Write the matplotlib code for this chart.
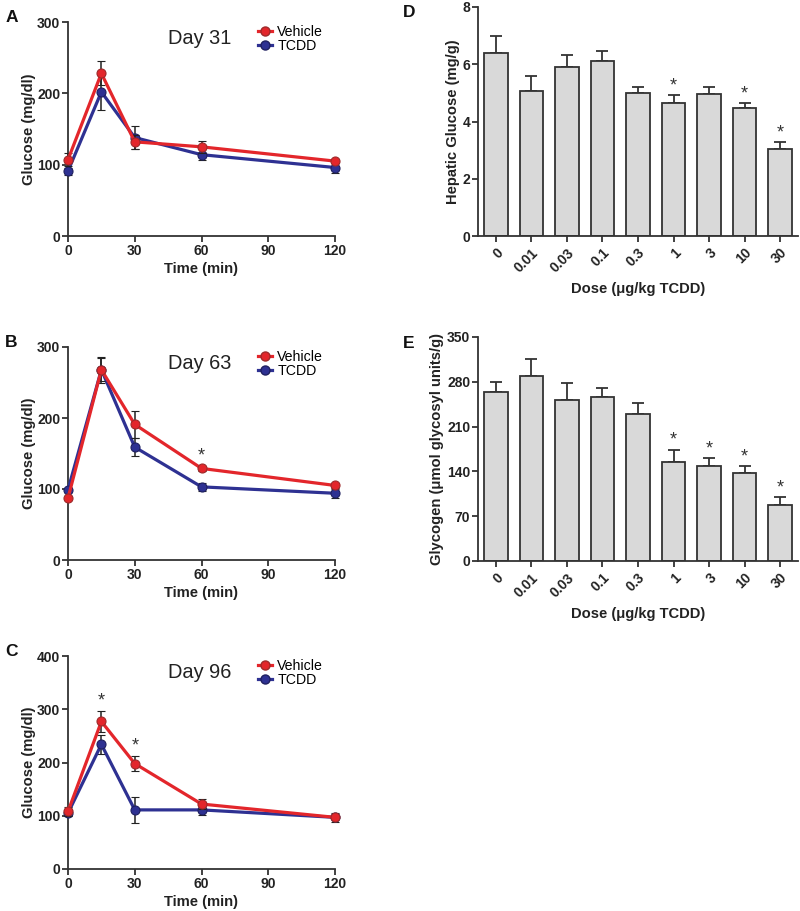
import matplotlib
matplotlib.use("Agg")
import matplotlib.pyplot as plt
from matplotlib.lines import Line2D

plt.rcParams['font.family'] = ['Liberation Sans', 'DejaVu Sans']

# ---------------- data ----------------
times = [0, 15, 30, 60, 120]

a_vehicle = [107, 228, 132, 125, 105]
a_vehicle_err = [9, 17, 10, 8, 3]
a_tcdd = [91, 202, 138, 114, 96]
a_tcdd_err = [5, 25, 16, 8, 7]

b_vehicle = [87, 268, 191, 129, 105]
b_vehicle_err = [3, 16, 19, 3, 3]
b_tcdd = [99, 268, 159, 103, 94]
b_tcdd_err = [3, 18, 13, 6, 6]

c_vehicle = [108, 277, 198, 122, 97]
c_vehicle_err = [8, 20, 14, 10, 4]
c_tcdd = [105, 234, 111, 111, 97]
c_tcdd_err = [6, 18, 25, 10, 8]

days = ["Day 31", "Day 63", "Day 96"]
b_star_idx = [3]
c_star_idx = [1, 2]

doses = ["0", "0.01", "0.03", "0.1", "0.3", "1", "3", "10", "30"]
hepatic = [6.39, 5.08, 5.89, 6.12, 5.00, 4.64, 4.96, 4.46, 3.05]
hepatic_err = [0.60, 0.50, 0.42, 0.36, 0.19, 0.28, 0.25, 0.18, 0.24]
hepatic_star = [False, False, False, False, False, True, False, True, True]

glycogen = [264, 289, 251, 256, 230, 154, 148, 137, 87]
glycogen_err = [15, 27, 27, 14, 17, 20, 13, 11, 13]
glycogen_star = [False, False, False, False, False, True, True, True, True]

# ---------------- style ----------------
W, H = 800, 911
RED = '#e3262b'
RED_EDGE = '#9e2a2a'
BLUE = '#2e3192'
BLUE_EDGE = '#1f2060'
AX = '#333333'
BARFILL = '#d9d9d9'
TICK_FS = 10
LAB_FS = 10.6

fig = plt.figure(figsize=(W / 100, H / 100), dpi=100)


def ax_px(left, top, right, bottom):
    return fig.add_axes([left / W, 1 - bottom / H, (right - left) / W, (bottom - top) / H])


def style_axes(ax):
    for s in ['top', 'right']:
        ax.spines[s].set_visible(False)
    for s in ['left', 'bottom']:
        ax.spines[s].set_color(AX)
        ax.spines[s].set_linewidth(1.3)
    ax.tick_params(direction='out', length=4, width=1.3, color=AX, labelsize=TICK_FS,
                   pad=1.5)
    for lab in ax.get_xticklabels() + ax.get_yticklabels():
        lab.set_fontweight('bold')
        lab.set_color('#222222')


def line_panel(ax, veh, veh_err, tcdd, tcdd_err, ymax, yticks, day, letter, stars):
    ax.errorbar(times, tcdd, yerr=tcdd_err, color=BLUE, lw=2.3, marker='o', ms=6.5,
                mfc=BLUE, mec=BLUE_EDGE, mew=0.8, ecolor='#222222', elinewidth=1.1,
                capsize=2.6, capthick=1.1, zorder=3, clip_on=False)
    ax.errorbar(times, veh, yerr=veh_err, color=RED, lw=2.3, marker='o', ms=6.5,
                mfc=RED, mec=RED_EDGE, mew=0.8, ecolor='#222222', elinewidth=1.1,
                capsize=2.6, capthick=1.1, zorder=4, clip_on=False)
    for i in stars:
        ax.text(times[i], veh[i] + veh_err[i] + ymax * 0.008, '*', ha='center', va='bottom',
                fontsize=13, color='#333333')
    ax.set_xlim(0, 120)
    ax.set_ylim(0, ymax)
    ax.set_xticks([0, 30, 60, 90, 120])
    ax.set_yticks(yticks)
    ax.set_xlabel('Time (min)', fontsize=LAB_FS, fontweight='bold', labelpad=3, color='#222222')
    ax.set_ylabel('Glucose (mg/dl)', fontsize=LAB_FS, fontweight='bold', labelpad=1, color='#222222')
    style_axes(ax)
    ax.text(0.494, 0.921, day, transform=ax.transAxes, fontsize=14.4, ha='center', va='center',
            color='#222222')
    handles = [Line2D([], [], color=RED, lw=2.3, marker='o', ms=6.5, mfc=RED, mec=RED_EDGE),
               Line2D([], [], color=BLUE, lw=2.3, marker='o', ms=6.5, mfc=BLUE, mec=BLUE_EDGE)]
    ax.legend(handles, ['Vehicle', 'TCDD'], loc='center left', bbox_to_anchor=(0.712, 0.921),
              frameon=False, fontsize=10.2, handlelength=1.0, handletextpad=0.35,
              labelspacing=0.0, borderaxespad=0, borderpad=0)
    ax.text(-0.235, 1.02, letter, transform=ax.transAxes, fontsize=12.5, fontweight='bold',
            ha='left', va='center', color='#111111')


axA = ax_px(68, 22, 335, 236)
line_panel(axA, a_vehicle, a_vehicle_err, a_tcdd, a_tcdd_err, 300, [0, 100, 200, 300],
           days[0], 'A', [])
axB = ax_px(68, 347, 335, 560)
line_panel(axB, b_vehicle, b_vehicle_err, b_tcdd, b_tcdd_err, 300, [0, 100, 200, 300],
           days[1], 'B', b_star_idx)
axC = ax_px(68, 656, 335, 869)
line_panel(axC, c_vehicle, c_vehicle_err, c_tcdd, c_tcdd_err, 400, [0, 100, 200, 300, 400],
           days[2], 'C', c_star_idx)


def bar_panel(ax, vals, errs, star, ymax, yticks, ylabel, letter, ly):
    x = list(range(len(doses)))
    ax.bar(x, vals, width=0.66, color=BARFILL, edgecolor=AX, linewidth=1.3, zorder=2)
    ax.errorbar(x, vals, yerr=[[0] * len(errs), errs], fmt='none', ecolor=AX, elinewidth=1.3,
                capsize=4.6, capthick=1.3, zorder=1)
    for i, s in enumerate(star):
        if s:
            ax.text(i, vals[i] + errs[i] + ymax * 0.003, '*', ha='center', va='bottom',
                    fontsize=13, color='#333333')
    ax.set_xlim(-0.5, 8.5)
    ax.set_ylim(0, ymax)
    ax.set_yticks(yticks)
    ax.set_xticks(x)
    ax.set_xticklabels(doses, rotation=45, ha='right', rotation_mode='anchor')
    ax.set_xlabel('Dose (μg/kg TCDD)', fontsize=LAB_FS, fontweight='bold', labelpad=5,
                  color='#222222')
    ax.set_ylabel(ylabel, fontsize=LAB_FS, fontweight='bold', labelpad=2, color='#222222')
    style_axes(ax)
    ax.tick_params(axis='x', pad=3)
    ax.text(-0.234, ly, letter, transform=ax.transAxes, fontsize=12.5, fontweight='bold',
            ha='left', va='center', color='#111111')


axD = ax_px(478, 7, 798, 236)
bar_panel(axD, hepatic, hepatic_err, hepatic_star, 8, [0, 2, 4, 6, 8],
          'Hepatic Glucose (mg/g)', 'D', 0.975)
axE = ax_px(478, 337, 798, 561)
bar_panel(axE, glycogen, glycogen_err, glycogen_star, 350, [0, 70, 140, 210, 280, 350],
          'Glycogen (μmol glycosyl units/g)', 'E', 0.97)

fig.savefig('out.png', dpi=100, facecolor='white')
